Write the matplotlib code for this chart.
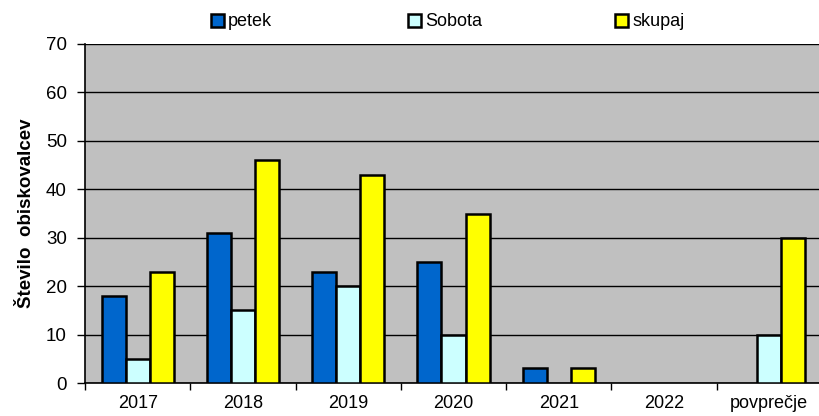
import matplotlib.pyplot as plt
import numpy as np
from matplotlib.patches import Patch

plt.rcParams["font.family"] = ["Liberation Sans", "DejaVu Sans"]

categories = ["2017", "2018", "2019", "2020", "2021", "2022", "povprečje"]
petek = [18, 31, 23, 25, 3, 0, 0]
sobota = [5, 15, 20, 10, 0, 0, 10]
skupaj = [23, 46, 43, 35, 3, 0, 30]

series = [("petek", petek, "#0066cc"),
          ("Sobota", sobota, "#ccffff"),
          ("skupaj", skupaj, "#ffff00")]

fig = plt.figure(figsize=(8.19, 4.16), dpi=100)
ax = fig.add_axes([85 / 819, 1 - 383 / 416, (822 - 85) / 819, (383 - 44) / 416])
ax.set_facecolor("#c0c0c0")

x = np.arange(len(categories))
w = 0.228
for i, (name, vals, col) in enumerate(series):
    v = np.array(vals, dtype=float)
    keep = v > 0
    ax.bar(x[keep] + (i - 1) * w, v[keep], width=w, color=col,
           edgecolor="black", linewidth=1.8, zorder=3)

ax.set_xlim(-0.5, len(categories) - 0.5)
ax.set_ylim(0, 70)
ax.set_yticks(range(0, 71, 10))
ax.yaxis.grid(True, color="black", linewidth=1.0, zorder=1)
ax.set_axisbelow(True)

ax.set_xticks(x)
ax.set_xticklabels(categories, fontsize=13)
ax.set_xticks(np.arange(-0.5, len(categories)), minor=True)
ax.tick_params(axis="x", which="major", length=0, pad=9)
ax.tick_params(axis="x", which="minor", length=5, width=1, color="black")
ax.tick_params(axis="y", length=6, width=1, labelsize=13.5, pad=7)

for s in ["top", "right"]:
    ax.spines[s].set_visible(False)
for s in ["left", "bottom"]:
    ax.spines[s].set_color("black")
    ax.spines[s].set_linewidth(1.2)

ax.set_ylabel("Število  obiskovalcev", fontsize=13.5, fontweight="bold", labelpad=8)

# one legend entry per slot, placed where the reference has them
legend_x = [211, 408, 615]
for (n, _, c), lx in zip(series, legend_x):
    h = Patch(facecolor=c, edgecolor="black", linewidth=1.8, label=n)
    fig.legend(handles=[h], loc="center left", bbox_to_anchor=(lx / 819, 1 - 22 / 416),
               frameon=False, fontsize=13, handlelength=0.7, handleheight=0.7,
               handletextpad=0.25, borderpad=0, borderaxespad=0)

fig.savefig("out.png", dpi=100)
